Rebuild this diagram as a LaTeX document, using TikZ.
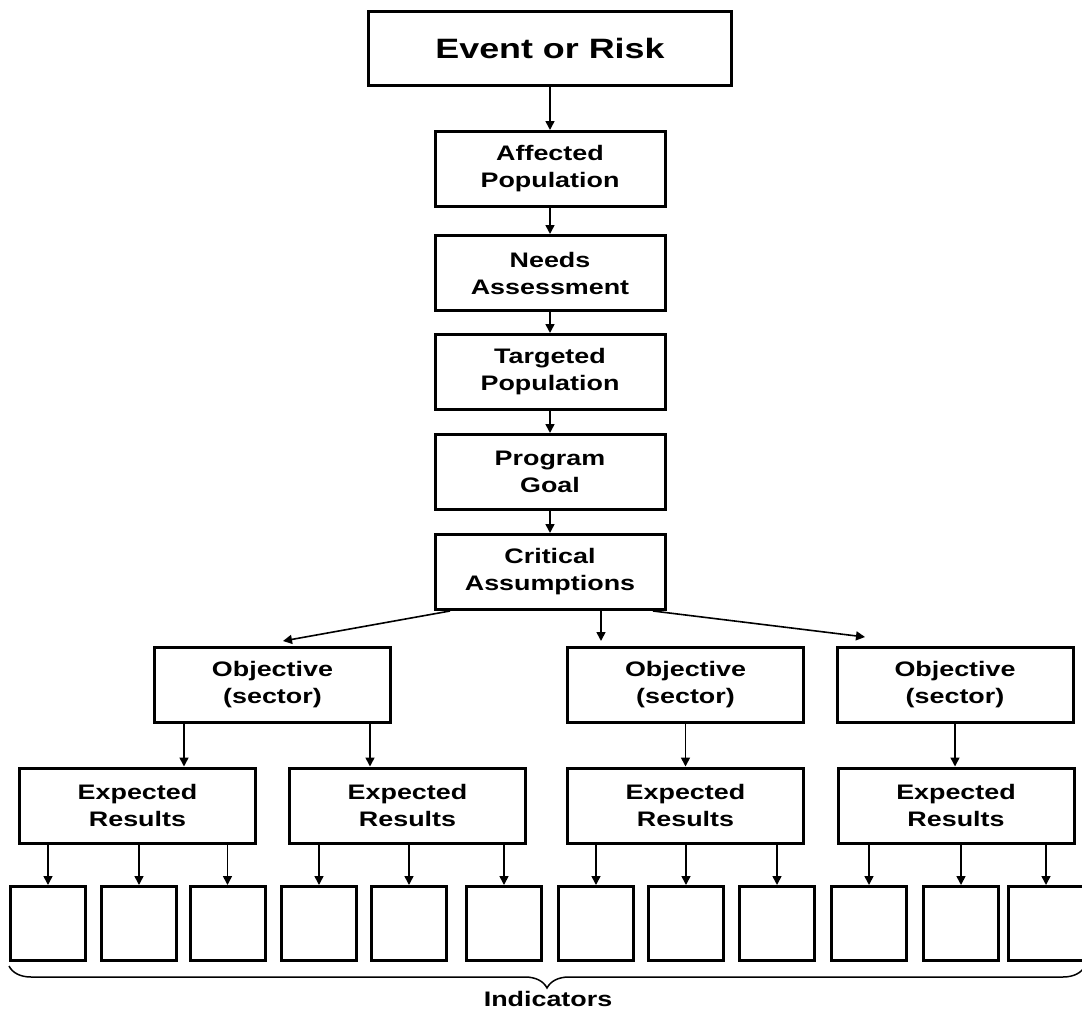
\documentclass[tikz,border=0pt]{standalone}
\usepackage{fontspec}
\setmainfont{Liberation Sans}[FakeStretch=1.28]
\usetikzlibrary{positioning,arrows.meta,decorations.pathreplacing,calc}

\begin{document}
\begin{tikzpicture}[
  x=1pt, y=-1pt,
  node distance=22pt,
  box/.style={rectangle, draw, line width=3pt, align=center, inner sep=0pt, minimum width=230pt, minimum height=75pt, font=\fontsize{21}{27}\selectfont\bfseries},
  widebox/.style={box, minimum width=236pt},
  indbox/.style={box, minimum width=75pt, minimum height=74pt},
  arrow/.style={-{Triangle[length=9pt,width=9pt]}, line width=1.6pt}
]
\useasboundingbox (0,0) rectangle (1082,1009);

% Main chain
\node[box, minimum width=363pt, minimum height=74pt, font=\fontsize{28}{34}\selectfont\bfseries] (event) at (550,48.5) {Event or Risk};
\node[box, below=43pt of event] (affected) {Affected\\Population};
\node[box, below=26pt of affected] (needs) {Needs\\Assessment};
\node[box, below=21pt of needs] (targeted) {Targeted\\Population};
\node[box, below=of targeted] (goal) {Program\\Goal};
\node[box, below=of goal] (crit) {Critical\\Assumptions};

% Objectives
\node[widebox] (obj1) at (272.5,685) {Objective\\(sector)};
\node[widebox] (obj2) at (685.5,685) {Objective\\(sector)};
\node[widebox] (obj3) at (955,685) {Objective\\(sector)};

% Expected results
\node[widebox] (res1) at (137.5,805.5) {Expected\\Results};
\node[widebox] (res2) at (407.5,805.5) {Expected\\Results};
\node[widebox] (res3) at (685.5,805.5) {Expected\\Results};
\node[widebox] (res4) at (956,805.5) {Expected\\Results};

% Indicator boxes
\foreach \x [count=\i] in {48,139,227.5,319,409,504,596,686,777,869,961,1046}
  \node[indbox] (ind\i) at (\x,923.5) {};

% Arrows
\draw[arrow] (event) -- (affected);
\draw[arrow] (affected) -- (needs);
\draw[arrow] (needs) -- (targeted);
\draw[arrow] (targeted) -- (goal);
\draw[arrow] (goal) -- (crit);

\draw[arrow] ([xshift=-100pt]crit.south) -- ([xshift=10.5pt,yshift=5pt]obj1.north);
\draw[arrow] ([xshift=51pt]crit.south) -- ([xshift=-84.5pt,yshift=5pt]obj2.north);
\draw[arrow] ([xshift=103pt]crit.south) -- ([xshift=-90pt,yshift=9pt]obj3.north);

\draw[arrow] ([xshift=-88.5pt]obj1.south) -- ([xshift=46.5pt]res1.north);
\draw[arrow] ([xshift=97.5pt]obj1.south) -- ([xshift=-37.5pt]res2.north);
\draw[arrow] (obj2) -- (res3);
\draw[arrow] (obj3.south) -- (obj3.south |- res4.north);

\foreach \i/\r in {1/1,2/1,3/1,4/2,5/2,6/2,7/3,8/3,9/3,10/4,11/4,12/4}
  \draw[arrow] (ind\i |- res\r.south) -- (ind\i.north);

% Brace
\draw[decorate, decoration={brace, mirror, amplitude=22pt}, line width=1.5pt] ([yshift=-4pt]ind1.south west) -- ([yshift=-4pt]ind12.south east);
\node[font=\fontsize{21}{27}\selectfont\bfseries] (indlabel) at (548,999) {Indicators};

\end{tikzpicture}
\end{document}
